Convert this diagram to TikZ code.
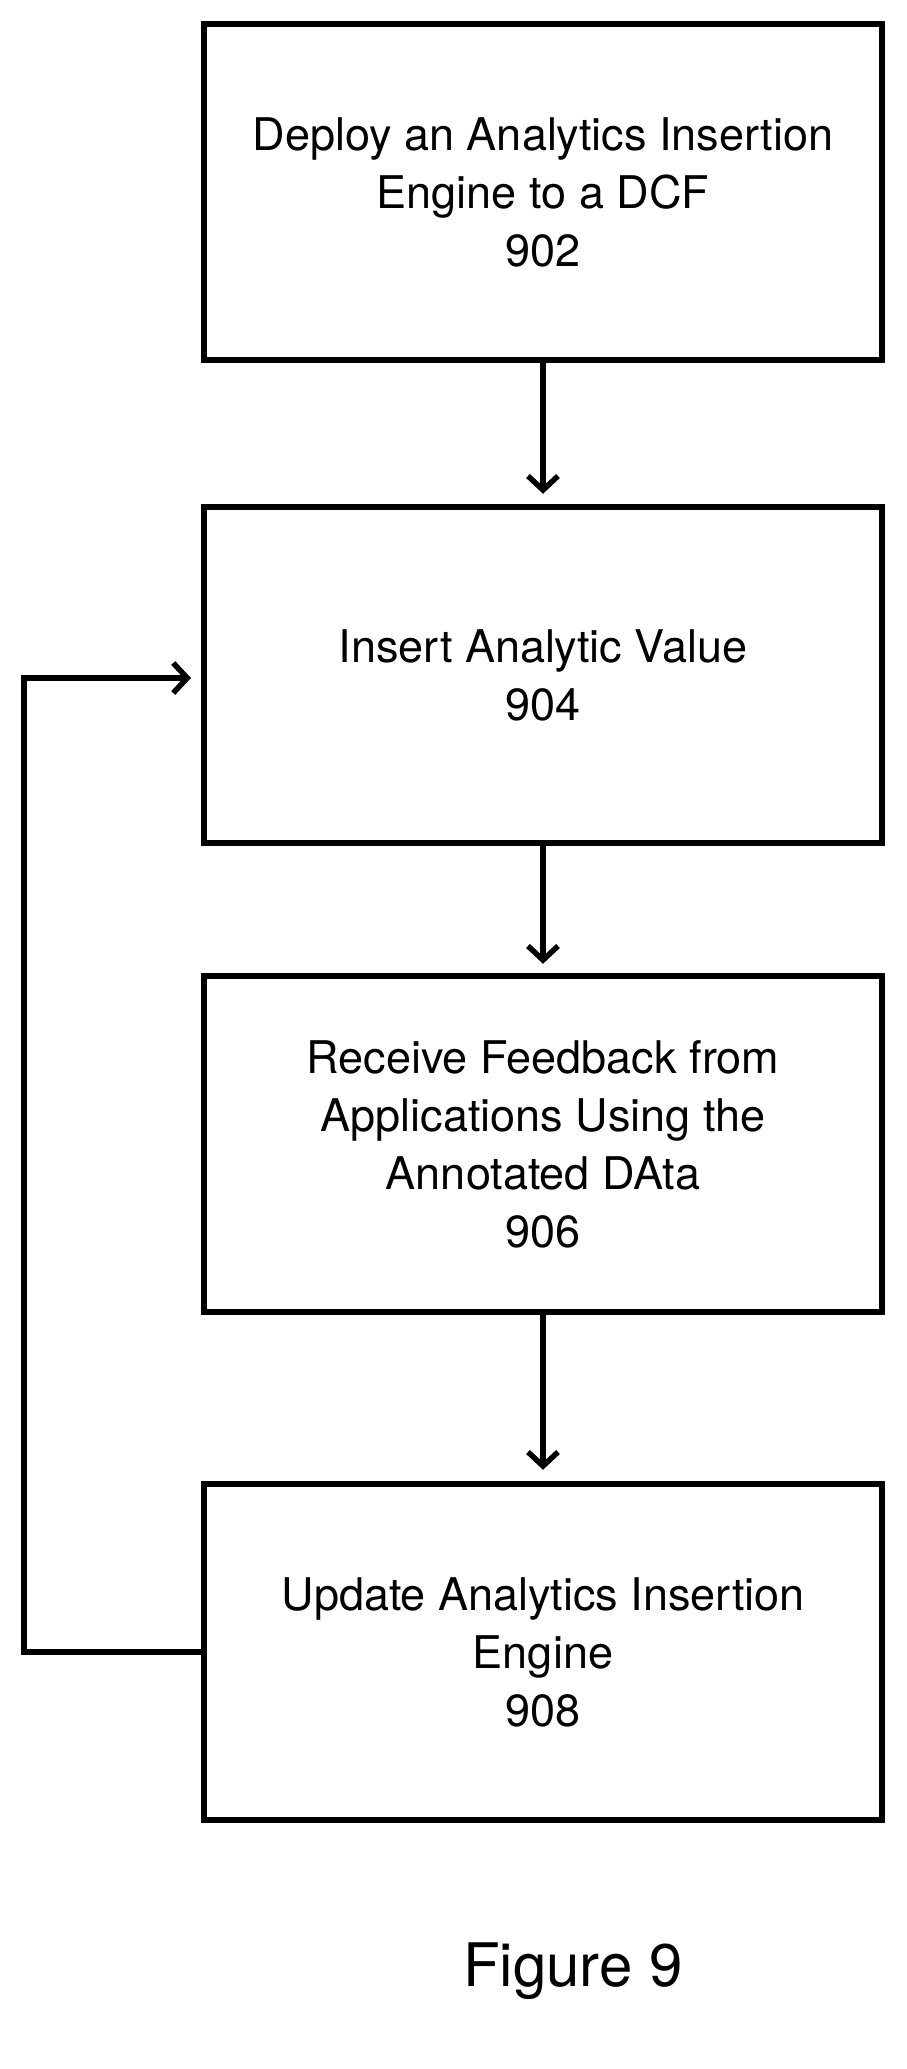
\documentclass[tikz,border=0pt]{standalone}
\usepackage{fontspec}
\setmainfont{TeX Gyre Heros}
\usetikzlibrary{arrows.meta}
\begin{document}
\begin{tikzpicture}[x=1pt,y=-1pt,
  box/.style={draw,line width=5.5pt,minimum width=678pt,minimum height=336pt,align=center,
    font=\fontsize{45}{58}\selectfont,inner sep=0pt},
  arr/.style={line width=5.5pt,-{Straight Barb[length=14pt,width=30pt,line width=5.5pt]}}]
\useasboundingbox (0,0) rectangle (906,2069);
\node[box] (b1) at (543,192) {Deploy an Analytics Insertion\\Engine to a DCF\\902};
\node[box] (b2) at (543,675) {Insert Analytic Value\\904};
\node[box] (b3) at (543,1144) {Receive Feedback from\\Applications Using the\\Annotated DAta\\906};
\node[box] (b4) at (543,1652) {Update Analytics Insertion\\Engine\\908};
\coordinate (c1) at (24,1652);
\coordinate (c2) at (24,678);
\coordinate (t2) at (191,678);
\draw[arr] (b1.south) -- ++(0,131);
\draw[arr] (b2.south) -- ++(0,118);
\draw[arr] (b3.south) -- ++(0,155);
\draw[arr] (b4.west) -- (c1) -- (c2) -- (t2);
\node[font=\fontsize{60}{66}\selectfont] (fig) at (573,1971) {Figure 9};
\end{tikzpicture}
\end{document}
